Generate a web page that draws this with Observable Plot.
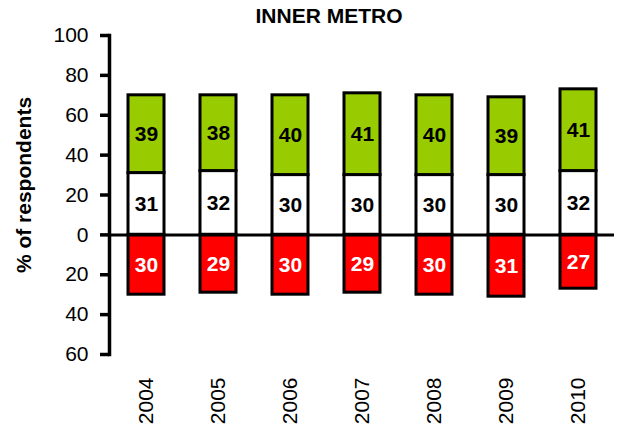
<!DOCTYPE html>
<html>
<head>
<meta charset="utf-8">
<script src="https://cdn.jsdelivr.net/npm/d3@7"></script>
<script src="https://cdn.jsdelivr.net/npm/@observablehq/plot@0.6"></script>
<style>
  html, body { margin: 0; padding: 0; background: #fff; }
</style>
</head>
<body>
<div id="chart"></div>
<script>
const title = "INNER METRO";
const yLabel = "% of respondents";
const years = ["2004", "2005", "2006", "2007", "2008", "2009", "2010"];
const positive = [39, 38, 40, 41, 40, 39, 41];
const neutral = [31, 32, 30, 30, 30, 30, 32];
const negative = [30, 29, 30, 29, 30, 31, 27];
const yTicks = [-60, -40, -20, 0, 20, 40, 60, 80, 100];

const rows = years.map((year, i) => ({
  year,
  pos: positive[i],
  neu: neutral[i],
  neg: negative[i]
}));

const font = "'Liberation Sans', Arial, Helvetica, sans-serif";

const chart = Plot.plot({
  width: 623,
  height: 430,
  marginTop: 35,
  marginBottom: 76,
  marginLeft: 109,
  marginRight: 9,
  style: { fontFamily: font, fontSize: "20px", background: "#fff", color: "#000" },
  x: { domain: years, paddingInner: 0.5, paddingOuter: 0.25, align: 0.5 },
  y: { domain: [-60, 100] },
  marks: [
    Plot.barY(rows, { x: "year", y1: 0, y2: "neu", fill: "#ffffff", stroke: "#000", strokeWidth: 3 }),
    Plot.barY(rows, { x: "year", y1: "neu", y2: d => d.neu + d.pos, fill: "#99cc00", stroke: "#000", strokeWidth: 3 }),
    Plot.barY(rows, { x: "year", y1: d => -d.neg, y2: 0, fill: "#ff0000", stroke: "#000", strokeWidth: 3 }),
    Plot.ruleY([0], { stroke: "#000", strokeWidth: 3 }),
    Plot.frame({ anchor: "left", stroke: "#000", strokeWidth: 3.5 }),
    Plot.axisY({ ticks: yTicks, tickFormat: d => Math.abs(d), tickSize: 9, tickPadding: 12, fontSize: 21, strokeWidth: 3.5, label: null }),
    Plot.axisX({ tickSize: 0, tickRotate: -90, tickPadding: 23, fontSize: 21, label: null }),
    Plot.text(rows, { x: "year", y: d => d.neu / 2, text: "neu", fontSize: 21, fontWeight: "bold", fill: "#000" }),
    Plot.text(rows, { x: "year", y: d => d.neu + d.pos / 2, text: "pos", fontSize: 21, fontWeight: "bold", fill: "#000" }),
    Plot.text(rows, { x: "year", y: d => -d.neg / 2, text: "neg", fontSize: 21, fontWeight: "bold", fill: "#fff" }),
    Plot.text([title], { frameAnchor: "top", textAnchor: "middle", lineAnchor: "middle", dx: -33, dy: -19.5, fontSize: 21, fontWeight: "bold", fill: "#000" }),
    Plot.text([yLabel], { frameAnchor: "left", textAnchor: "middle", lineAnchor: "middle", dx: -85, dy: -10, rotate: -90, fontSize: 21, fontWeight: "bold", fill: "#000" })
  ]
});

document.getElementById("chart").appendChild(chart);
</script>
</body>
</html>
